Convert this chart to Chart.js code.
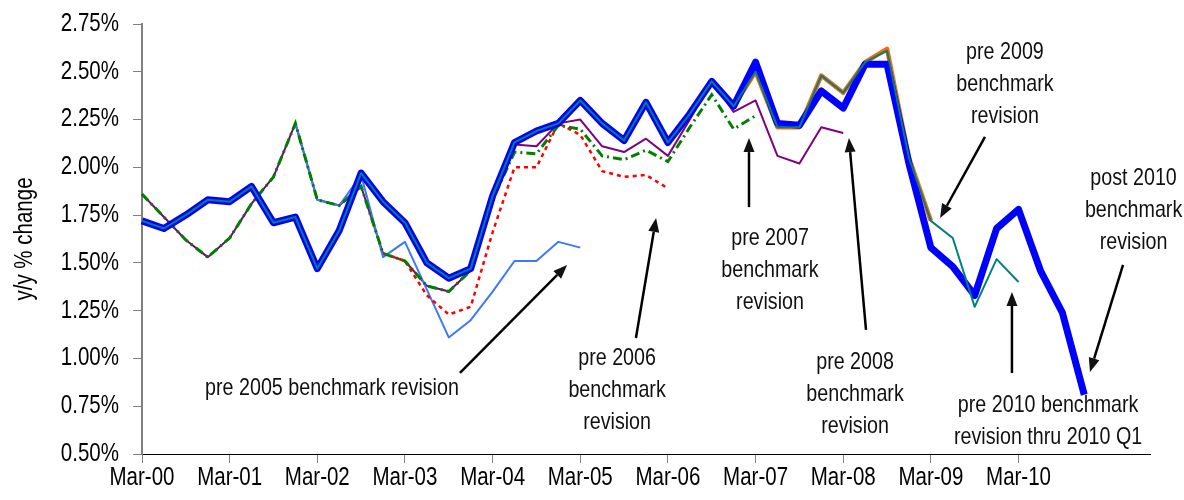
<!DOCTYPE html>
<html>
<head>
<meta charset="utf-8">
<script src="https://cdn.jsdelivr.net/npm/chart.js@4.4.1/dist/chart.umd.min.js"></script>
<style>
  html, body { margin: 0; padding: 0; background: #fff; }
  #wrap { width: 1184px; height: 500px; }
</style>
</head>
<body>
<div id="wrap"><canvas id="chart" width="1184" height="500"></canvas></div>
<script>
// quarterly categories (last three only stretch the axis)
const quarters = [
  "Mar-00", "Jun-00", "Sep-00", "Dec-00", "Mar-01", "Jun-01", "Sep-01", "Dec-01",
  "Mar-02", "Jun-02", "Sep-02", "Dec-02", "Mar-03", "Jun-03", "Sep-03", "Dec-03",
  "Mar-04", "Jun-04", "Sep-04", "Dec-04", "Mar-05", "Jun-05", "Sep-05", "Dec-05",
  "Mar-06", "Jun-06", "Sep-06", "Dec-06", "Mar-07", "Jun-07", "Sep-07", "Dec-07",
  "Mar-08", "Jun-08", "Sep-08", "Dec-08", "Mar-09", "Jun-09", "Sep-09", "Dec-09",
  "Mar-10", "Jun-10", "Sep-10", "Dec-10", "Mar-11", "Jun-11", "Sep-11"
];
const tickLabels = ["Mar-00", "Mar-01", "Mar-02", "Mar-03", "Mar-04", "Mar-05",
  "Mar-06", "Mar-07", "Mar-08", "Mar-09", "Mar-10"];
const yTicks = [0.5, 0.75, 1.0, 1.25, 1.5, 1.75, 2.0, 2.25, 2.5, 2.75];

// y/y % change by benchmark vintage
const pre2005 = [null, null, null, null, null, null, null,
  2.23, 1.83, 1.80, 1.96, 1.53, 1.61, 1.36, 1.11, 1.20, 1.35, 1.51, 1.51, 1.61, 1.58];
const pre2006 = [null, null, null, null, null, null, null, null, null, null, null,
  1.55, 1.51, 1.33, 1.23, 1.27, 1.66, 2.00, 2.00, 2.23, 2.17, 1.98, 1.95, 1.96, 1.89];
const pre2007 = [1.86, 1.74, 1.62, 1.53, 1.63, 1.81, 1.95, 2.23, 1.83, 1.80,
  1.90, 1.55, 1.51, 1.38, 1.35, 1.46, 1.83, 2.08, 2.07, 2.22,
  2.20, 2.06, 2.04, 2.09, 2.03, 2.21, 2.38, 2.20, 2.27];
const pre2008 = [1.86, 1.74, 1.62, 1.53, 1.63, 1.81, 1.95, 2.23, 1.83, 1.80,
  1.90, 1.55, 1.51, 1.38, 1.35, 1.46, 1.83, 2.12, 2.11, 2.23,
  2.25, 2.11, 2.08, 2.15, 2.06, 2.25, 2.45, 2.29, 2.35, 2.06, 2.02, 2.21, 2.18];
const pre2009 = [1.72, 1.68, 1.75, 1.83, 1.82, 1.90, 1.71, 1.74, 1.47, 1.67,
  1.97, 1.82, 1.71, 1.50, 1.42, 1.47, 1.85, 2.13, 2.19, 2.23,
  2.35, 2.23, 2.14, 2.34, 2.13, 2.28, 2.45, 2.32, 2.50, 2.21,
  2.21, 2.48, 2.39, 2.55, 2.62, 2.05, 1.72];
const pre2010 = [1.72, 1.68, 1.75, 1.83, 1.82, 1.90, 1.71, 1.74, 1.47, 1.67,
  1.97, 1.82, 1.71, 1.50, 1.42, 1.47, 1.85, 2.13, 2.19, 2.23,
  2.35, 2.23, 2.14, 2.34, 2.13, 2.28, 2.45, 2.32, 2.50, 2.21,
  2.21, 2.48, 2.39, 2.55, 2.61, 2.05, 1.72, 1.63, 1.27, 1.52, 1.40];
const post2010 = [1.72, 1.68, 1.75, 1.83, 1.82, 1.90, 1.71, 1.74, 1.47, 1.67,
  1.97, 1.82, 1.71, 1.50, 1.42, 1.47, 1.85, 2.13, 2.19, 2.23,
  2.35, 2.23, 2.14, 2.34, 2.13, 2.28, 2.45, 2.32, 2.55, 2.23,
  2.22, 2.40, 2.31, 2.54, 2.54, 2.02, 1.58, 1.48, 1.33, 1.68,
  1.78, 1.46, 1.24, 0.81];

// callouts, placed in axis units (category index, percent)
const notes = [
  { lines: ["pre 2005 benchmark revision"], x: 8.67, y: 0.845, from: [14.51, 0.924], to: [19.40, 1.489] },
  { lines: ["pre 2006", "benchmark", "revision"], x: 21.68, y: 1.002, from: [22.54, 1.107], to: [23.46, 1.735] },
  { lines: ["pre 2007", "benchmark", "revision"], x: 28.66, y: 1.630, from: [27.70, 1.792], to: [27.70, 2.153] },
  { lines: ["pre 2008", "benchmark", "revision"], x: 32.54, y: 0.981, from: [33.04, 1.149], to: [32.26, 2.153] },
  { lines: ["pre 2009", "benchmark", "revision"], x: 39.38, y: 2.604, from: [38.47, 2.159], to: [36.42, 1.735] },
  { lines: ["post 2010", "benchmark", "revision"], x: 45.25, y: 1.944, from: [44.77, 1.489], to: [43.26, 0.929] },
  { lines: ["pre 2010 benchmark", "revision thru 2010 Q1"], x: 41.35, y: 0.756, from: [39.70, 0.924], to: [39.70, 1.348] }
];

const FONT = "'Liberation Sans', Arial, sans-serif";
const NARROW = 0.82; // squeeze to look like Arial Narrow

function narrowText(ctx, text, x, y, size, align, angle) {
  ctx.save();
  ctx.translate(x, y);
  if (angle) ctx.rotate(angle);
  ctx.scale(NARROW, 1);
  ctx.font = size + "px " + FONT;
  ctx.textAlign = align;
  ctx.textBaseline = "middle";
  ctx.fillText(text, 0, 0);
  ctx.restore();
}

// axis labels and callouts drawn in a narrow face
const narrowLabels = {
  id: "narrowLabels",
  afterDraw(chart) {
    const ctx = chart.ctx;
    const xs = chart.scales.x, ys = chart.scales.y;
    const area = chart.chartArea;
    ctx.save();
    ctx.fillStyle = "#000";

    xs.ticks.forEach((t, i) => {
      const q = quarters[t.value];
      if (tickLabels.includes(q)) narrowText(ctx, q, xs.getPixelForTick(i), area.bottom + 24, 25, "center");
    });
    yTicks.forEach(v => {
      narrowText(ctx, v.toFixed(2) + "%", area.left - 23, ys.getPixelForValue(v), 25, "right");
    });
    narrowText(ctx, "y/y % change", 25, (area.top + area.bottom) / 2, 25, "center", -Math.PI / 2);

    ctx.fillStyle = "#111";
    ctx.strokeStyle = "#000";
    notes.forEach(n => {
      const cx = xs.getPixelForValue(n.x);
      const cy = ys.getPixelForValue(n.y);
      n.lines.forEach((t, i) => narrowText(ctx, t, cx, cy + i * 32, 24, "center"));

      const x1 = xs.getPixelForValue(n.from[0]), y1 = ys.getPixelForValue(n.from[1]);
      const x2 = xs.getPixelForValue(n.to[0]), y2 = ys.getPixelForValue(n.to[1]);
      const a = Math.atan2(y2 - y1, x2 - x1);
      const head = 14, half = 5.5;
      const bx = x2 - head * Math.cos(a), by = y2 - head * Math.sin(a);
      ctx.lineWidth = 2.5;
      ctx.beginPath();
      ctx.moveTo(x1, y1);
      ctx.lineTo(bx, by);
      ctx.stroke();
      ctx.beginPath();
      ctx.moveTo(x2, y2);
      ctx.lineTo(bx + half * Math.sin(a), by - half * Math.cos(a));
      ctx.lineTo(bx - half * Math.sin(a), by + half * Math.cos(a));
      ctx.closePath();
      ctx.fill();
    });
    ctx.restore();
  }
};

function line(label, data, color, width, order, extra) {
  return Object.assign({
    label: label,
    data: data,
    borderColor: color,
    backgroundColor: color,
    borderWidth: width,
    pointRadius: 0,
    tension: 0,
    fill: false,
    order: order,
    borderJoinStyle: "round"
  }, extra || {});
}

new Chart(document.getElementById("chart"), {
  type: "line",
  data: {
    labels: quarters,
    datasets: [
      line("pre 2010 benchmark revision thru 2010 Q1", pre2010, "#008080", 2, 0),
      line("post 2010 benchmark revision", post2010, "#0000FF", 7, 1),
      line("pre 2009 benchmark revision", pre2009, "#FF6600", 4.5, 2),
      line("pre 2007 benchmark revision", pre2007, "#008000", 3, 3, { borderDash: [9, 4, 2, 4], borderJoinStyle: "miter" }),
      line("pre 2006 benchmark revision", pre2006, "#FF0000", 2.5, 4, { borderDash: [4, 4], borderJoinStyle: "miter" }),
      line("pre 2005 benchmark revision", pre2005, "#3C78FF", 2, 5),
      line("pre 2008 benchmark revision", pre2008, "#800080", 2, 6)
    ]
  },
  options: {
    responsive: false,
    animation: false,
    devicePixelRatio: 1,
    layout: { padding: { top: 24, right: 34, left: 0, bottom: 0 } },
    plugins: {
      legend: { display: false },
      tooltip: { enabled: false },
      title: { display: false }
    },
    scales: {
      x: {
        type: "category",
        offset: false,
        grid: {
          drawOnChartArea: false,
          drawTicks: true,
          tickLength: 9,
          tickColor: c => tickLabels.includes(quarters[c.index]) ? "#808080" : "rgba(0,0,0,0)"
        },
        border: { color: "#000", width: 1 },
        ticks: { display: false, autoSkip: false, maxRotation: 0 },
        afterFit: s => { s.height = 46; }
      },
      y: {
        min: 0.5,
        max: 2.75,
        afterBuildTicks: s => { s.ticks = yTicks.map(v => ({ value: v })); },
        ticks: { display: false },
        grid: { drawOnChartArea: false, tickLength: 9, tickColor: "#808080" },
        border: { color: "#808080", width: 2 },
        afterFit: s => { s.width = 142; }
      }
    }
  },
  plugins: [narrowLabels]
});
</script>
</body>
</html>
